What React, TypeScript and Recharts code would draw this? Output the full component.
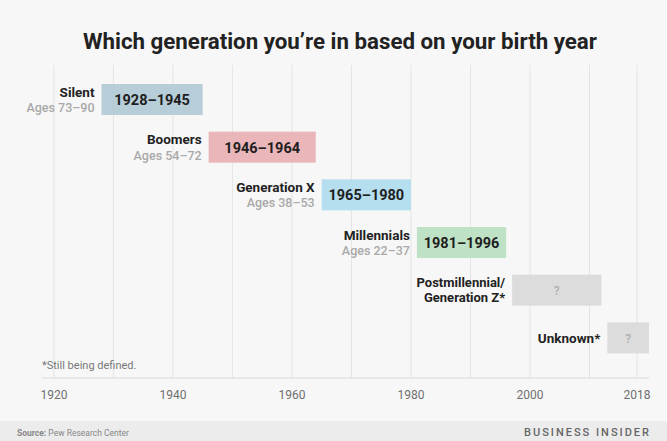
import React from 'react';
import { BarChart, Bar, XAxis, YAxis, CartesianGrid } from 'recharts';

const generations = ['Silent', 'Boomers', 'Generation X', 'Millennials', 'Postmillennial/|Generation Z*', 'Unknown*'];
const startYears = [1928, 1946, 1965, 1981, 1997, 2013];
const endYears = [1945, 1964, 1980, 1996, 2012, 2020];
const ageLabels = ['Ages 73–90', 'Ages 54–72', 'Ages 38–53', 'Ages 22–37', '', ''];
const barLabels = ['1928–1945', '1946–1964', '1965–1980', '1981–1996', '?', '?'];
const barColors = ['#b7cdd7', '#ebb6b9', '#b5dfee', '#bfe1c5', '#dcdcdc', '#dcdcdc'];
const gridYears = [1920, 1930, 1940, 1950, 1960, 1970, 1980, 1990, 2000, 2010, 2018];
const tickYears = [1920, 1940, 1960, 1980, 2000, 2018];

const data = generations.map((g, i) => ({
  name: g,
  range: [startYears[i], endYears[i]],
  ages: ageLabels[i],
  label: barLabels[i],
  color: barColors[i],
}));

const FONT = 'Roboto, "Noto Sans", sans-serif';

const BarShape = (props: any) => {
  const { x, y, width, height, payload } = props;
  const cy = y + height / 2;
  const lines: string[] = payload.name.split('|');
  const isQ = payload.label === '?';
  const lx = x - 7;
  let nameEl: any;
  if (payload.ages) {
    nameEl = (
      <text x={lx} y={cy - 3} textAnchor="end" fontSize={13.5} fontWeight={700} fill="#222">
        <tspan x={lx}>{lines[0]}</tspan>
        <tspan x={lx} dy={15.5} fontSize={12.5} fontWeight={500} fill="#a9a9a9">
          {payload.ages}
        </tspan>
      </text>
    );
  } else if (lines.length > 1) {
    nameEl = (
      <text x={lx} y={cy - 3.2} textAnchor="end" fontSize={13} fontWeight={700} fill="#222">
        <tspan x={lx}>{lines[0]}</tspan>
        <tspan x={lx} dy={15}>
          {lines[1]}
        </tspan>
      </text>
    );
  } else {
    nameEl = (
      <text x={lx} y={cy} textAnchor="end" dominantBaseline="central" fontSize={13.5} fontWeight={700} fill="#222">
        {lines[0]}
      </text>
    );
  }
  return (
    <g style={{ fontFamily: FONT }}>
      <rect x={x} y={y} width={width} height={height} fill={payload.color} />
      <text
        x={x + width / 2}
        y={cy + 1}
        textAnchor="middle"
        dominantBaseline="central"
        fontSize={isQ ? 12 : 14.5}
        fontWeight={isQ ? 500 : 700}
        fill={isQ ? '#b0b0b0' : '#1e1e1e'}
      >
        {payload.label}
      </text>
      {nameEl}
    </g>
  );
};

export default function App() {
  return (
    <div
      style={{
        position: 'absolute',
        left: 0,
        top: 0,
        width: 667,
        height: 441,
        background: '#f7f7f7',
        fontFamily: FONT,
        overflow: 'hidden',
      }}
    >
      <div
        style={{
          position: 'absolute',
          left: 0,
          top: 27,
          width: 680,
          textAlign: 'center',
          fontSize: 22.3,
          fontWeight: 700,
          color: '#222',
          lineHeight: '28px',
        }}
      >
        Which generation you’re in based on your birth year
      </div>
      <div style={{ position: 'absolute', left: 0, top: 0 }}>
        <BarChart
          width={667}
          height={441}
          data={data}
          layout="vertical"
          margin={{ top: 65, right: 18, bottom: 33, left: 42 }}
          barSize={31}
        >
          <CartesianGrid horizontal={false} stroke="#e4e4e4" verticalValues={gridYears} />
          <XAxis
            type="number"
            domain={[1918, 2020]}
            ticks={tickYears}
            tickLine={false}
            axisLine={{ stroke: '#dadada' }}
            tick={{ fill: '#6f6f6f', fontSize: 12, fontFamily: FONT }}
            tickMargin={6}
          />
          <YAxis type="category" dataKey="name" hide padding={{ top: 11, bottom: 16 }} />
          <Bar dataKey="range" isAnimationActive={false} shape={BarShape} />
        </BarChart>
      </div>
      <div style={{ position: 'absolute', left: 42, top: 359, fontSize: 11, color: '#777' }}>
        *Still being defined.
      </div>
      <div
        style={{
          position: 'absolute',
          left: 0,
          top: 421,
          width: 667,
          height: 20,
          background: '#ececec',
        }}
      />
      <div style={{ position: 'absolute', left: 17, top: 428, fontSize: 8.5, color: '#888' }}>
        <span style={{ fontWeight: 700 }}>Source:</span> Pew Research Center
      </div>
      <div
        style={{
          position: 'absolute',
          right: 16,
          top: 426,
          fontSize: 11,
          fontWeight: 500,
          color: '#666',
          letterSpacing: 2,
        }}
      >
        BUSINESS INSIDER
      </div>
    </div>
  );
}
